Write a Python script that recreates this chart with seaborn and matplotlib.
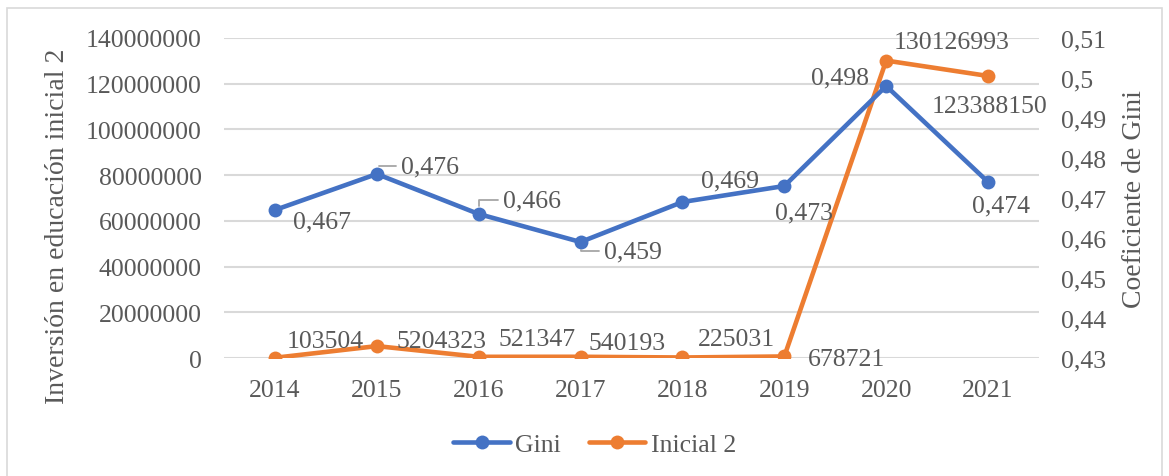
import pandas as pd
import numpy as np
import matplotlib.pyplot as plt
import seaborn as sns
from matplotlib.patches import Rectangle
from matplotlib.lines import Line2D

years = ["2014", "2015", "2016", "2017", "2018", "2019", "2020", "2021"]
gini = [0.467, 0.476, 0.466, 0.459, 0.469, 0.473, 0.498, 0.474]
inicial2 = [103504, 5204323, 521347, 540193, 225031, 678721, 130126993, 123388150]
gini_labels = ["0,467", "0,476", "0,466", "0,459", "0,469", "0,473", "0,498", "0,474"]
inicial_labels = [str(v) for v in inicial2]

sns.set_style("white")
plt.rcParams['font.family'] = ['Liberation Serif', 'DejaVu Serif']

blue = "#4472C4"
orange = "#ED7D31"
txt = "#595959"
fs = 18.5

data = pd.DataFrame({"year": years, "gini": gini, "inicial2": inicial2})

fig = plt.figure(figsize=(11.69, 4.77), dpi=100)
ax = fig.add_axes([224 / 1169, 1 - 359 / 477, (1039 - 224) / 1169, 320 / 477])
ax2 = ax.twinx()

fig.patches.append(Rectangle((7 / 1169, -0.05), 1155 / 1169, 1.05 - 9 / 477,
                             transform=fig.transFigure, fill=False,
                             edgecolor="#D9D9D9", linewidth=1.2))

sns.lineplot(data=data, x="year", y="inicial2", ax=ax, color=orange, marker="o",
             markersize=10, linewidth=3.3, markeredgewidth=0, zorder=3)
sns.lineplot(data=data, x="year", y="gini", ax=ax2, color=blue, marker="o",
             markersize=10, linewidth=3.3, markeredgewidth=0, zorder=3)

ax.set_ylim(0, 140000000)
ax.set_yticks(np.arange(0, 140000001, 20000000))
ax.set_yticklabels([str(int(v)) for v in np.arange(0, 140000001, 20000000)])
ax2.set_ylim(0.43, 0.51)
ax2.set_yticks(np.arange(0.43, 0.5101, 0.01))
ax2.set_yticklabels(["0,43", "0,44", "0,45", "0,46", "0,47", "0,48", "0,49", "0,5", "0,51"])
ax.set_xlim(-0.5, 7.5)

ax.grid(axis="y", color="#D9D9D9", linewidth=1.5)
ax.set_axisbelow(True)
for a in (ax, ax2):
    for s in a.spines.values():
        s.set_visible(False)
    a.tick_params(length=0, labelsize=fs, colors=txt)
ax.tick_params(axis="y", pad=16)
ax.tick_params(axis="x", pad=15)
ax2.tick_params(axis="y", pad=16)

ax.set_xlabel("")
ax.set_ylabel("Inversión en educación inicial 2", fontsize=20, color=txt)
ax.yaxis.set_label_coords(-0.189, 0.4156)
ax2.set_ylabel("Coeficiente de Gini", fontsize=20, color=txt, labelpad=11)

# data labels (offsets in pixels)
gini_off = [(47, -11), (53, 8), (53, 14), (52, -9), (48, 22), (20, -26), (-46, 9), (13, -23)]
leader = [False, True, True, True, False, False, False, False]
for i, (lab, off) in enumerate(zip(gini_labels, gini_off)):
    ap = None
    if leader[i]:
        ap = dict(arrowstyle="-", color="#A6A6A6", lw=1.3, shrinkA=1, shrinkB=6,
                  connectionstyle="angle,angleA=0,angleB=90,rad=0")
    ax2.annotate(lab, (i, gini[i]), xytext=off, textcoords="offset pixels",
                 ha="center", va="center", fontsize=fs, color=txt, arrowprops=ap, zorder=5)

ini_off = [(50, 17), (65, 5), (58, 18), (47, 14), (54, 18), (62, -3), (65, 19), (1, -30)]
for i, (lab, off) in enumerate(zip(inicial_labels, ini_off)):
    ax.annotate(lab, (i, inicial2[i]), xytext=off, textcoords="offset pixels",
                ha="center", va="center", fontsize=fs, color=txt, zorder=5)

handles = [Line2D([], [], color=blue, marker="o", markersize=10, linewidth=3.3, markeredgewidth=0),
           Line2D([], [], color=orange, marker="o", markersize=10, linewidth=3.3, markeredgewidth=0)]
fig.legend(handles, ["Gini", "Inicial 2"], loc="center", bbox_to_anchor=(0.5086, 0.067),
           ncol=2, frameon=False, fontsize=fs, labelcolor=txt, handlelength=2.2,
           handletextpad=0.2, columnspacing=1.1)

fig.savefig("out.png", dpi=100)
